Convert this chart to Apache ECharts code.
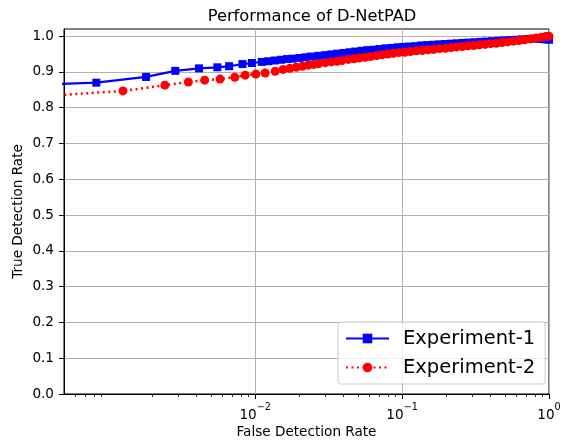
<!DOCTYPE html>
<html>
<head>
<meta charset="utf-8">
<script src="https://cdn.jsdelivr.net/npm/echarts@6/dist/echarts.min.js"></script>
<style>
  html, body { margin: 0; padding: 0; background: #fff; }
  #chart { width: 568px; height: 441px; }
</style>
</head>
<body>
<div id="chart"></div>
<script>
// Experiment-1 (blue squares, solid)
var fdr1 = [0.0003, 0.00083, 0.00181, 0.00286, 0.00415, 0.00553, 0.00665, 0.0082, 0.0095, 0.0111,
  0.0123, 0.0136, 0.015, 0.0165, 0.018, 0.020, 0.022, 0.024, 0.027, 0.030,
  0.033, 0.036, 0.040, 0.044, 0.048, 0.053, 0.058, 0.064, 0.070, 0.077,
  0.085, 0.093, 0.102, 0.112, 0.123, 0.135, 0.148, 0.163, 0.179, 0.196,
  0.215, 0.236, 0.259, 0.284, 0.312, 0.342, 0.375, 0.411, 0.451, 0.495,
  0.543, 0.596, 0.654, 0.717, 0.787, 0.863, 0.947, 1.0];
var tdr1 = [0.864, 0.870, 0.886, 0.903, 0.910, 0.913, 0.916, 0.922, 0.925, 0.928,
  0.930, 0.932, 0.934, 0.936, 0.937, 0.939, 0.941, 0.943, 0.945, 0.947,
  0.949, 0.951, 0.953, 0.955, 0.957, 0.959, 0.961, 0.962, 0.964, 0.966,
  0.967, 0.969, 0.970, 0.971, 0.972, 0.974, 0.975, 0.976, 0.977, 0.978,
  0.979, 0.980, 0.981, 0.982, 0.983, 0.984, 0.985, 0.986, 0.987, 0.988,
  0.989, 0.990, 0.991, 0.992, 0.993, 0.992, 0.991, 0.990];

// Experiment-2 (red circles, dotted)
var fdr2 = [0.0003, 0.00126, 0.00243, 0.00351, 0.00453, 0.00577, 0.00726, 0.00855, 0.0101, 0.0117,
  0.0137, 0.0155, 0.0172, 0.019, 0.021, 0.023, 0.025, 0.027, 0.030, 0.033,
  0.036, 0.039, 0.043, 0.047, 0.051, 0.056, 0.061, 0.067, 0.073, 0.080,
  0.087, 0.095, 0.104, 0.114, 0.125, 0.137, 0.150, 0.164, 0.180, 0.197,
  0.215, 0.235, 0.257, 0.281, 0.307, 0.336, 0.367, 0.401, 0.438, 0.479,
  0.523, 0.572, 0.625, 0.683, 0.746, 0.815, 0.890, 0.950, 1.0];
var tdr2 = [0.830, 0.847, 0.863, 0.872, 0.877, 0.880, 0.885, 0.891, 0.894, 0.897,
  0.902, 0.907, 0.910, 0.913, 0.916, 0.919, 0.921, 0.923, 0.926, 0.928,
  0.930, 0.932, 0.935, 0.937, 0.939, 0.941, 0.943, 0.946, 0.948, 0.950,
  0.952, 0.954, 0.955, 0.957, 0.959, 0.960, 0.962, 0.963, 0.965, 0.966,
  0.968, 0.970, 0.971, 0.973, 0.974, 0.976, 0.977, 0.979, 0.980, 0.982,
  0.984, 0.986, 0.988, 0.990, 0.992, 0.995, 0.997, 0.999, 1.0];

var xMajor = [0.01, 0.1, 1];
var xMinor = [0.0006, 0.0007, 0.0008, 0.0009,
  0.002, 0.003, 0.004, 0.005, 0.006, 0.007, 0.008, 0.009,
  0.02, 0.03, 0.04, 0.05, 0.06, 0.07, 0.08, 0.09,
  0.2, 0.3, 0.4, 0.5, 0.6, 0.7, 0.8, 0.9];
var yTicks = [0, 0.1, 0.2, 0.3, 0.4, 0.5, 0.6, 0.7, 0.8, 0.9, 1.0];

function zip(xs, ys) {
  return xs.map(function (x, i) { return [x, ys[i]]; });
}

var FONT = 'DejaVu Sans';
var chart = echarts.init(document.getElementById('chart'));
chart.setOption({
  animation: false,
  backgroundColor: '#fff',
  textStyle: { fontFamily: FONT },
  title: {
    text: 'Performance of D-NetPAD',
    left: 307,
    textAlign: 'center',
    top: 4,
    textStyle: { fontFamily: FONT, fontSize: 16.3, fontWeight: 'normal', color: '#000' }
  },
  grid: {
    left: 64, right: 19, top: 29, bottom: 47,
    outerBoundsMode: 'none',
    containLabel: false,
    show: true, borderColor: '#000', borderWidth: 1, backgroundColor: 'transparent'
  },
  legend: {
    orient: 'vertical',
    left: 338, top: 322,
    padding: [5, 10, 5, 7],
    itemGap: 6,
    itemWidth: 43,
    itemHeight: 12,
    backgroundColor: 'rgba(255,255,255,0.8)',
    borderColor: '#cccccc',
    borderWidth: 1,
    borderRadius: 3,
    textStyle: { fontFamily: FONT, fontSize: 19.5, color: '#000', lineHeight: 23, padding: [0, 0, 0, 9] },
    data: ['Experiment-1', 'Experiment-2']
  },
  xAxis: [
    {
      type: 'log',
      min: 0.0005, max: 1,
      name: 'False Detection Rate',
      nameLocation: 'middle',
      nameGap: 31,
      nameMoveOverlap: false,
      nameTextStyle: { fontFamily: FONT, fontSize: 13.6, color: '#000' },
      axisLine: { show: true, lineStyle: { color: '#000', width: 1 } },
      axisTick: { show: true, length: 5, customValues: xMajor, lineStyle: { color: '#000', width: 1 } },
      axisLabel: {
        customValues: xMajor,
        margin: 8,
        color: '#000',
        formatter: function (v) {
          var e = Math.round(Math.log10(v));
          return '{b|10}{s|' + (e < 0 ? '\u2212' + (-e) : e) + '}';
        },
        rich: {
          b: { fontFamily: FONT, fontSize: 13.6, color: '#000', lineHeight: 20, verticalAlign: 'bottom' },
          s: { fontFamily: FONT, fontSize: 9.6, color: '#000', lineHeight: 20, verticalAlign: 'top' }
        }
      },
      splitLine: { show: true, lineStyle: { color: '#b0b0b0', width: 1 } },
      minorTick: { show: false },
      minorSplitLine: { show: false }
    },
    {
      type: 'log',
      min: 0.0005, max: 1,
      position: 'bottom',
      axisLine: { show: false },
      axisTick: { show: true, length: 3, customValues: xMinor, lineStyle: { color: '#000', width: 0.8 } },
      axisLabel: { show: false },
      splitLine: { show: false }
    }
  ],
  yAxis: {
    type: 'value',
    min: 0, max: 1.02,
    name: 'True Detection Rate',
    nameLocation: 'middle',
    nameGap: 39,
    nameMoveOverlap: false,
    nameTextStyle: { fontFamily: FONT, fontSize: 13.6, color: '#000' },
    axisLine: { show: true, lineStyle: { color: '#000', width: 1 } },
    axisTick: { show: true, length: 5, customValues: yTicks, lineStyle: { color: '#000', width: 1 } },
    axisLabel: {
      customValues: yTicks,
      margin: 10,
      fontFamily: FONT, fontSize: 13.6, color: '#000',
      formatter: function (v) { return v.toFixed(1); }
    },
    splitLine: { show: true, lineStyle: { color: '#b0b0b0', width: 1 } }
  },
  series: [
    {
      name: 'Experiment-1',
      type: 'line',
      xAxisIndex: 0,
      data: zip(fdr1, tdr1),
      symbol: 'rect',
      symbolSize: 8,
      showAllSymbol: true,
      color: '#0000ff',
      lineStyle: { color: '#0000ff', width: 2.2 },
      itemStyle: { color: '#0000ff' },
      clip: true,
      z: 3
    },
    {
      name: 'Experiment-2',
      type: 'line',
      xAxisIndex: 0,
      data: zip(fdr2, tdr2),
      symbol: 'circle',
      symbolSize: 9,
      showAllSymbol: true,
      color: '#ff0000',
      lineStyle: { color: '#ff0000', width: 2.5, type: [2, 3.5] },
      itemStyle: { color: '#ff0000' },
      clip: true,
      z: 4
    }
  ]
});
</script>
</body>
</html>
